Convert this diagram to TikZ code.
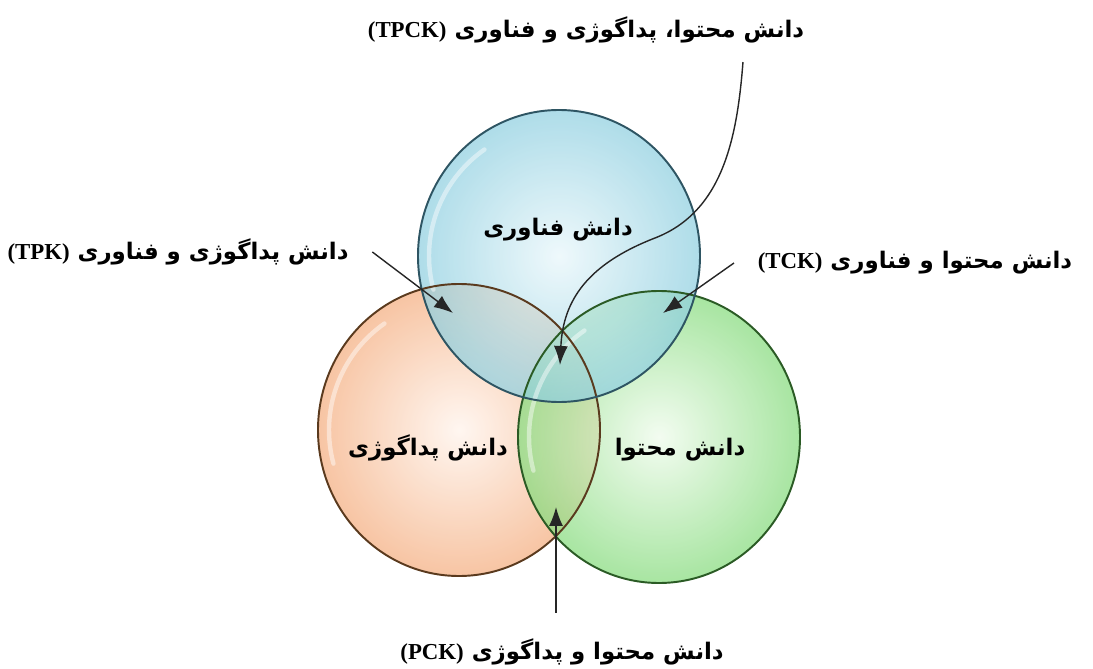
\documentclass[tikz,border=0pt]{standalone}
\usepackage{fontspec}
\usetikzlibrary{arrows.meta,shapes.geometric}
\newfontfamily\farsi[Script=Arabic]{DejaVu Sans}
\newfontfamily\latin{Liberation Serif}
\TeXXeTstate=1
\newcommand{\fa}[1]{{\farsi\bfseries\beginR #1\endR}}
\newcommand{\abbr}[1]{\beginL{\latin\bfseries(#1)}\endL}
\definecolor{techIn}{HTML}{E8F6FA}
\definecolor{techOut}{HTML}{8FCFE0}
\definecolor{techRim}{HTML}{2E5563}
\definecolor{pedIn}{HTML}{FFF3EB}
\definecolor{pedOut}{HTML}{F4AE80}
\definecolor{pedRim}{HTML}{5A3A1E}
\definecolor{contIn}{HTML}{EEFBEB}
\definecolor{contOut}{HTML}{86DB7D}
\definecolor{contRim}{HTML}{2B5B25}
\begin{document}
\begin{tikzpicture}[x=0.02cm,y=-0.02cm,
	bubble/.style={ellipse,inner sep=0pt,minimum width=5.64cm,minimum height=5.84cm,
		shade,fill opacity=0.72},
	pointer/.style={-{Latex[length=0.38cm,width=0.28cm]},line width=0.8pt,black!85},
	lbl/.style={inner sep=2pt,font=\fontsize{13}{15}\selectfont}]
			\useasboundingbox (0,0) rectangle (1093,669);
			
			\node[bubble,inner color=pedIn,outer color=pedOut] (PK) at (459,430) {};
			\node[bubble,inner color=contIn,outer color=contOut] (CK) at (659,437) {};
			\node[bubble,inner color=techIn,outer color=techOut] (TK) at (559,256) {};
			
			% glossy reflections and rims
			\foreach \c in {PK,CK,TK}
				\draw[white,line width=2.5pt,opacity=0.45,line cap=round]
					([shift={(125:2.6cm)}]\c.center) arc [start angle=125,end angle=195,radius=2.6cm];
			\foreach \c/\r in {PK/pedRim,CK/contRim,TK/techRim}
				\draw[\r,line width=1.1pt] (\c.center) ellipse [x radius=141,y radius=146];
			
			\begin{scope}[every node/.style={lbl}]
			\node (TKtext) at (558,230) {\fa{دانش فناوری}};
			\node (PKtext) at (428,448) {\fa{دانش پداگوژی}};
			\node (CKtext) at (680,450) {\fa{دانش محتوا}};
			\node (TPCK) at (586,30) {\fa{دانش محتوا، پداگوژی و فناوری \abbr{TPCK}}};
			\node (TPK) at (178,252) {\fa{دانش پداگوژی و فناوری \abbr{TPK}}};
			\node (TCK) at (915,263) {\fa{دانش محتوا و فناوری \abbr{TCK}}};
			\node (PCK) at (562,652) {\fa{دانش محتوا و پداگوژی \abbr{PCK}}};
			\end{scope}
			
			\coordinate (TPCKtip) at (560,365);
			\coordinate (TPKtip) at (453,313);
			\coordinate (TCKtip) at (663,313);
			\coordinate (PCKtip) at (556,507);
			
			\draw[pointer] ([xshift=-1.3cm,yshift=-0.3cm]TPCK.south east) .. controls (737,140) and (722,212) .. (655,238)
				.. controls (588,264) and (563,300) .. (TPCKtip);
			\draw[pointer] ([xshift=0.4cm]TPK.east) -- (TPKtip);
			\draw[pointer] ([xshift=-0.4cm]TCK.west) -- (TCKtip);
			\draw[pointer] (PCKtip |- PCK.north) ++(0,-22) -- (PCKtip);
			\end{tikzpicture}
\end{document}
